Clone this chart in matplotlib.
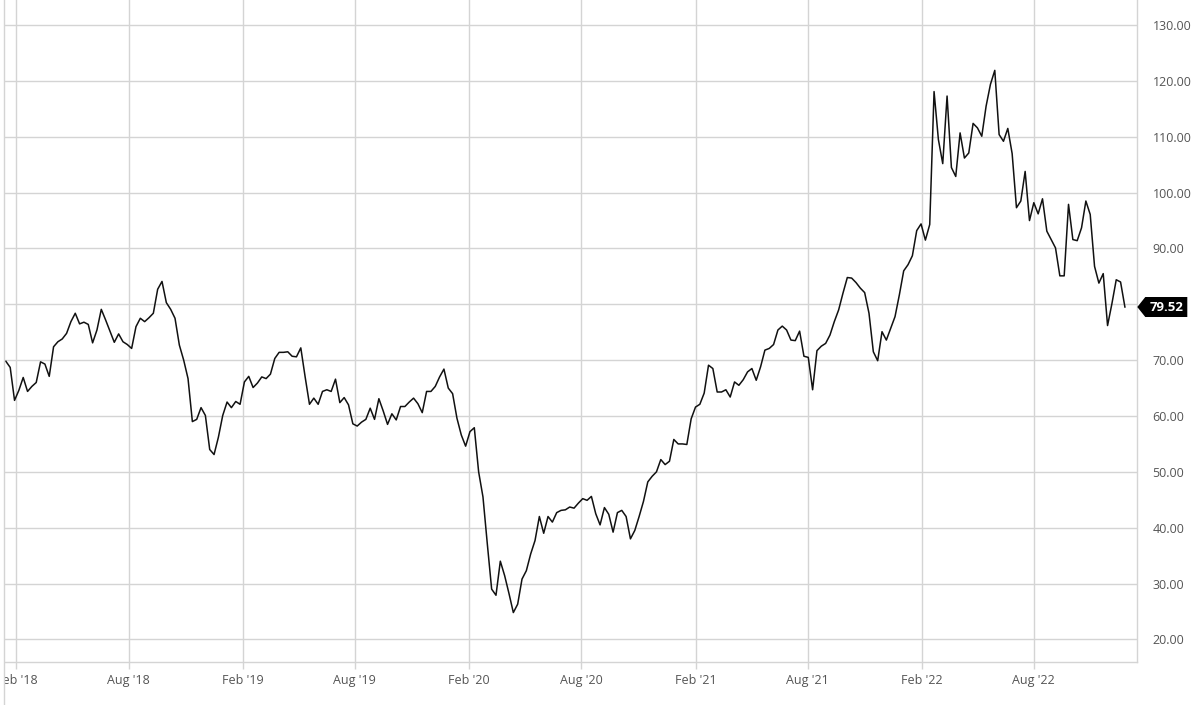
import matplotlib
matplotlib.use("Agg")
import matplotlib.pyplot as plt
import matplotlib.dates as mdates
import matplotlib.transforms as mtransforms
from matplotlib.patches import Polygon, Rectangle
from matplotlib.lines import Line2D
import pandas as pd

# weekly closing prices
prices_2018 = [69.8, 68.7, 62.8, 64.6, 66.9, 64.4, 65.3, 66.0, 69.7, 69.3,
               67.1, 72.4, 73.3, 73.8, 74.8, 76.9, 78.4, 76.5, 76.8, 76.4,
               73.1, 75.4, 79.1, 77.2, 75.2, 73.2, 74.7, 73.3, 72.8, 72.1,
               76.0, 77.5, 76.9, 77.6, 78.4, 82.7, 84.1, 80.3, 79.1, 77.5,
               72.7, 70.0, 66.7, 59.0, 59.4, 61.5, 60.1, 54.0, 53.1, 56.2,
               60.1, 62.5]
prices_2019 = [61.5, 62.6, 62.1, 66.1, 67.1, 65.1, 65.9, 67.0,
               66.7, 67.5, 70.3, 71.4, 71.4, 71.5, 70.7, 70.6, 72.2, 67.0,
               62.1, 63.2, 62.1, 64.4, 64.7, 64.4, 66.6, 62.4, 63.3, 62.0,
               58.6, 58.2, 58.9, 59.4, 61.4, 59.4, 63.1, 60.9, 58.5, 60.4,
               59.3, 61.7, 61.7, 62.5, 63.2, 62.2, 60.6, 64.4, 64.4, 65.3,
               67.0, 68.4, 65.0, 64.0]
prices_2020 = [59.6, 56.6, 54.6, 57.2, 57.9, 50.0,
               45.5, 37.1, 29.0, 27.9, 34.0, 31.4, 28.2, 24.8, 26.3, 30.8,
               32.3, 35.3, 37.7, 42.0, 39.0, 42.0, 41.0, 42.7, 43.1, 43.2,
               43.7, 43.5, 44.4, 45.2, 44.9, 45.6, 42.5, 40.5, 43.6, 42.4,
               39.2, 42.7, 43.1, 42.0, 38.0, 39.5, 42.0, 44.7, 48.2, 49.2,
               50.0, 52.2, 51.3, 51.9, 55.8, 55.0]
prices_2021 = [55.0, 54.9, 59.5, 61.6,
               62.1, 64.1, 69.1, 68.5, 64.3, 64.3, 64.7, 63.4, 66.1, 65.5,
               66.5, 67.9, 68.5, 66.4, 68.8, 71.8, 72.1, 72.8, 75.4, 76.1,
               75.4, 73.6, 73.5, 75.2, 70.7, 70.5, 64.7, 71.7, 72.5, 73.0,
               74.5, 76.9, 79.0, 82.0, 84.8, 84.7, 83.9, 82.9, 82.1, 78.4,
               71.5, 69.9, 75.1, 73.6, 75.7, 77.8, 81.7, 86.0]
prices_2022 = [87.1, 88.7,
               93.2, 94.4, 91.5, 94.3, 118.1, 109.5, 105.2, 117.3, 104.5, 102.9,
               110.7, 106.2, 107.1, 112.4, 111.6, 110.1, 115.5, 119.4, 121.9, 110.4,
               109.2, 111.5, 107.0, 97.3, 98.5, 103.8, 95.0, 98.2, 96.2, 98.9,
               93.1, 91.6, 90.1, 85.1, 85.1, 97.9, 91.6, 91.4, 93.7, 98.5,
               96.1, 86.8, 83.8, 85.5, 76.2, 80.1, 84.4, 84.0, 79.52]

prices = prices_2018 + prices_2019 + prices_2020 + prices_2021 + prices_2022
dates = pd.date_range("2018-01-15", periods=len(prices), freq="7D")

y_ticks = [20, 30, 40, 50, 60, 70, 80, 90, 100, 110, 120, 130]

grid_col = "#d4d4d4"
text_col = "#555555"

W, H = 1200, 705
fig = plt.figure(figsize=(W / 100, H / 100), dpi=100)
ax = fig.add_axes([4 / W, (H - 661.7) / H, (1137.3 - 4) / W, 661.7 / H])

ax.plot(dates, prices, color="#111111", lw=1.1, zorder=3)

ax.set_xlim(pd.Timestamp("2018-01-12"), pd.Timestamp("2023-01-15"))
ax.set_ylim(16, 134.5)

ax.xaxis.set_major_locator(mdates.MonthLocator(bymonth=(2, 8)))
ax.xaxis.set_major_formatter(mdates.DateFormatter("%b '%y"))
ax.set_yticks(y_ticks)
ax.set_yticklabels([f"{v:.2f}" for v in y_ticks])
ax.yaxis.tick_right()

ax.grid(True, color=grid_col, lw=1)
ax.set_axisbelow(True)
ax.tick_params(axis="x", length=5, color=grid_col, width=1, pad=4,
               labelsize=9, labelcolor=text_col)
ax.tick_params(axis="y", length=0, pad=11, labelsize=9, labelcolor=text_col)
for lab in ax.get_xticklabels() + ax.get_yticklabels():
    lab.set_fontfamily("Open Sans")

for side in ("top", "left"):
    ax.spines[side].set_visible(False)
for side in ("bottom", "right"):
    ax.spines[side].set_color(grid_col)
    ax.spines[side].set_linewidth(1)

# left border of the chart area, the first tick label is cut there
fig.add_artist(Rectangle((0, 0), 4 / W, 1, transform=fig.transFigure,
                         facecolor="white", edgecolor="none", zorder=10))
fig.add_artist(Line2D([4 / W, 4 / W], [0, 1], transform=fig.transFigure,
                      color=grid_col, lw=1, zorder=11))

# last value tag
last = prices[-1]
x0 = ax.transAxes.transform((1, 0))[0]
y0 = ax.transData.transform((0, last))[1]
tag = [(x0, y0), (x0 + 8, y0 + 10), (x0 + 50, y0 + 10),
       (x0 + 50, y0 - 10), (x0 + 8, y0 - 10)]
fig.add_artist(Polygon(tag, closed=True, transform=mtransforms.IdentityTransform(),
                       facecolor="black", edgecolor="none", zorder=12))
fig.text((x0 + 29) / W, y0 / H, f"{last:.2f}", color="white", fontsize=9.5,
         fontweight="bold", family="Open Sans", ha="center", va="center",
         zorder=13)

fig.savefig("out.png", dpi=100)
